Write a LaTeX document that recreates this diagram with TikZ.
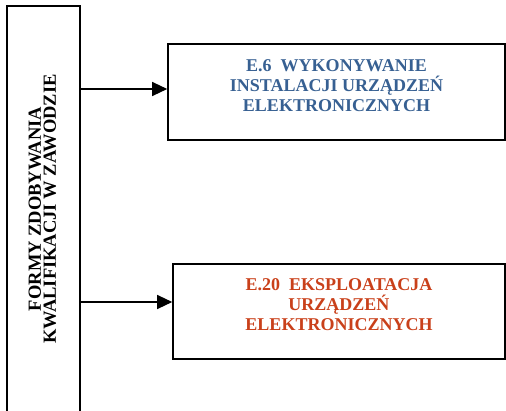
\documentclass[tikz,border=0pt]{standalone}
\usepackage{fontspec}
\setmainfont{Liberation Serif}
\usepackage{xcolor}
\usepackage{tikz}
\usetikzlibrary{arrows.meta}
\definecolor{kwalblue}{HTML}{376092}
\definecolor{kwalred}{HTML}{C9401A}
\tikzset{
	frame node/.style={rectangle,draw,line width=1.6pt},
	blue text/.style={align=center,text=kwalblue,font=\bfseries\fontsize{18}{20}\selectfont},
	red text/.style={align=center,text=kwalred,font=\bfseries\fontsize{18}{20}\selectfont}
}

\begin{document}
\begin{tikzpicture}[x=1pt,y=-1pt,->,>={Triangle[length=15pt,width=14pt]},line width=1.3pt]
      \clip (0,0) rectangle (506,410);

      \node[frame node,minimum width=73pt,minimum height=406pt] (forms) at (43.5,209) {};
      \node[rotate=90,align=center,font=\bfseries\fontsize{18.5}{15}\selectfont] at ([xshift=-1pt]forms.center)
        {FORMY ZDOBYWANIA\\KWALIFIKACJI W ZAWODZIE};

      \node[frame node,minimum width=337pt,minimum height=96pt] (e6) at (336.5,92) {};
      \node[blue text] at ([yshift=6pt]e6.center) {E.6\ \ WYKONYWANIE\\INSTALACJI URZĄDZEŃ\\ELEKTRONICZNYCH};

      \node[frame node,minimum width=332pt,minimum height=95pt] (e20) at (339,311.5) {};
      \node[red text] at ([yshift=6.5pt]e20.center) {E.20\ \ EKSPLOATACJA\\URZĄDZEŃ\\ELEKTRONICZNYCH};

      \coordinate (e6 in) at ([yshift=3pt]e6.west);
      \coordinate (e20 in) at ([yshift=9.5pt]e20.west);
      \draw (forms.east |- e6 in) -- (e6 in);
      \draw (forms.east |- e20 in) -- (e20 in);
    \end{tikzpicture}
\end{document}
